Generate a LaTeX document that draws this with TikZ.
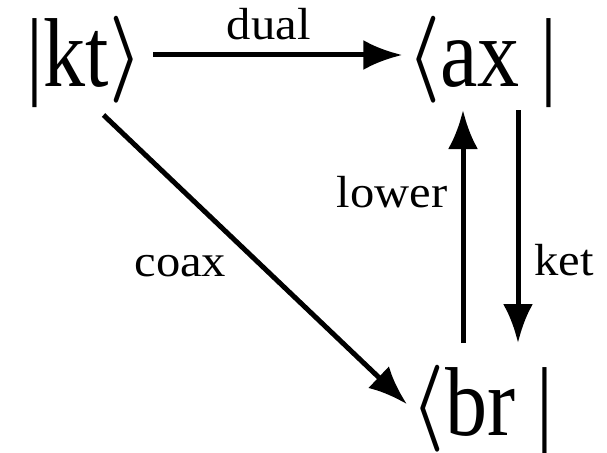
\documentclass[tikz,border=0pt]{standalone}
\usepackage{fontspec}
\setmainfont{Liberation Serif}
\usetikzlibrary{positioning,arrows.meta}

\newcommand{\statetext}[1]{\scalebox{1.89}[2.2]{#1}}
\newcommand{\broad}[1]{\scalebox{1.08}[1]{#1}}
\newcommand{\lang}{\raisebox{5pt}{\scalebox{7.4}[8.7]{\fontsize{10}{12}\selectfont\boldmath$\langle$}}}
\newcommand{\rang}{\raisebox{5pt}{\scalebox{7.4}[8.7]{\fontsize{10}{12}\selectfont\boldmath$\rangle$}}}

\begin{document}
\begin{tikzpicture}[
  x=1pt, y=-1pt,
  state/.style={inner sep=0pt, outer sep=0pt, anchor=base, text height=76pt, text depth=14pt, font=\fontsize{44.5}{45}\selectfont},
  map/.style={draw, line width=5pt, -{Latex[length=39pt,width=30pt]}},
  lbl/.style={font=\fontsize{45}{45}\selectfont, inner sep=0pt}
]
\useasboundingbox (0,0) rectangle (607,452);

\node[state] (kt) at (84.5,86) {\statetext{|kt}\rang};
\node[state] (ax) at (482.5,86) {\lang\statetext{ax |}};
\node[state] (br) at (482.5,435) {\lang\statetext{br |}};

\draw[map, shorten <=11pt, shorten >=5pt] (kt.east) -- node[lbl, above=13pt, xshift=-6pt] {\broad{dual}} (ax.west);
\draw[map, shorten >=7pt] ([xshift=19pt, yshift=-15pt]kt.south) -- node[lbl, midway, left=29pt, yshift=-4pt] {\broad{coax}} ([yshift=-5pt]br.west);
\draw[map, shorten <=16pt, shorten >=10pt] ([xshift=-19.5pt]br.north) -- node[lbl, pos=.645, left=13pt] {\broad{lower}} ([xshift=-19.5pt]ax.south);
\draw[map, shorten <=10pt, shorten >=16pt] ([xshift=35.5pt]ax.south) -- node[lbl, pos=.62, right=14pt] {\broad{ket}} ([xshift=35.5pt]br.north);
\end{tikzpicture}
\end{document}
